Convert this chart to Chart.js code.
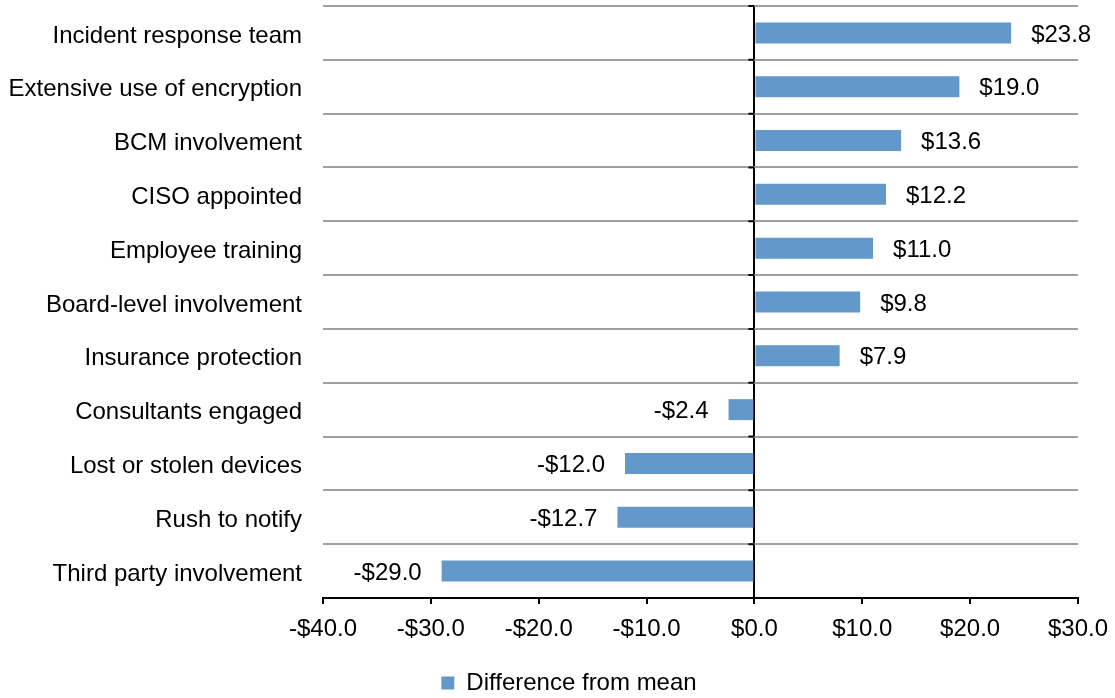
<!DOCTYPE html>
<html>
<head>
<meta charset="utf-8">
<script src="https://cdn.jsdelivr.net/npm/chart.js@4/dist/chart.umd.min.js"></script>
<style>
	html, body { margin: 0; padding: 0; background: #fff; }
	canvas { display: block; }
</style>
</head>
<body>
<canvas id="chart" width="1115" height="698"></canvas>
<script>
const categories = [
	'Incident response team',
	'Extensive use of encryption',
	'BCM involvement',
	'CISO appointed',
	'Employee training',
	'Board-level involvement',
	'Insurance protection',
	'Consultants engaged',
	'Lost or stolen devices',
	'Rush to notify',
	'Third party involvement'
];
const differences = [23.8, 19.0, 13.6, 12.2, 11.0, 9.8, 7.9, -2.4, -12.0, -12.7, -29.0];
const seriesName = 'Difference from mean';
const xMin = -40, xMax = 30, xStep = 10;

const font = '"Liberation Sans", Arial, sans-serif';
const fontSize = 24;
const barColor = '#6398cb';

function money (v) {
	return (v < 0 ? '-$' : '$') + Math.abs(v).toFixed(1);
}

// value labels beside each bar end
const valueLabels = {
	id: 'valueLabels',
	afterDatasetsDraw(chart) {
		const ctx = chart.ctx;
		const meta = chart.getDatasetMeta(0);
		ctx.save();
		ctx.font = fontSize + 'px ' + font;
		ctx.fillStyle = '#000';
		ctx.textBaseline = 'middle';
		meta.data.forEach((bar, i) => {
			const v = differences[i];
			if (v >= 0) {
				ctx.textAlign = 'left';
				ctx.fillText(money(v), bar.x + 20, bar.y + 2);
			} else {
				ctx.textAlign = 'right';
				ctx.fillText(money(v), bar.x - 20, bar.y + 2);
			}
		});
		ctx.restore();
	}
};

// small tick marks on the zero line at category boundaries
const zeroTicks = {
	id: 'zeroTicks',
	afterDraw(chart) {
		const ctx = chart.ctx;
		const x0 = chart.scales.x.getPixelForValue(0);
		const y = chart.scales.y;
		ctx.save();
		ctx.strokeStyle = '#000';
		ctx.lineWidth = 2;
		ctx.beginPath();
		for (let i = 0; i <= categories.length; i++) {
			const py = y.getPixelForValue(i - 0.5);
			ctx.moveTo(x0 - 6, py);
			ctx.lineTo(x0, py);
		}
		ctx.stroke();
		ctx.restore();
	}
};

// the legend sits a little right of the canvas centre and low, like the original
const legendShift = {
	id: 'legendShift',
	afterUpdate(chart) {
		const legend = chart.legend;
		const dx = 569 - (legend.left + legend.right) / 2;
		legend.left += dx;
		legend.right += dx;
		legend.top += 7;
		legend.bottom += 7;
		legend.adjustHitBoxes();
	}
};

new Chart(document.getElementById('chart'), {
	type: 'bar',
	data: {
		labels: categories,
		datasets: [{
			label: seriesName,
			data: differences,
			backgroundColor: barColor,
			borderWidth: 0,
			categoryPercentage: 1,
			barPercentage: 0.39
		}]
	},
	options: {
		indexAxis: 'y',
		responsive: false,
		animation: false,
		layout: {
			padding: {left: 0, right: 37, top: 6, bottom: 0}
		},
		plugins: {
			legend: {
				position: 'bottom',
				labels: {
					boxWidth: 13,
					boxHeight: 13,
					padding: 2,
					color: '#000',
					font: {family: font, size: fontSize}
				}
			},
			tooltip: {enabled: false}
		},
		scales: {
			x: {
				min: xMin,
				max: xMax,
				afterFit(scale) {
					scale.height = 64;
					scale.paddingLeft = 0;
					scale.paddingRight = 0;
				},
				ticks: {
					stepSize: xStep,
					padding: 11,
					color: '#000',
					font: {family: font, size: fontSize},
					callback: (v) => money(v)
				},
				grid: {
					lineWidth: 2,
					tickLength: 6,
					tickColor: '#000',
					color: (ctx) => ctx.tick && ctx.tick.value === 0 ? '#000' : 'rgba(0,0,0,0)'
				},
				border: {display: true, color: '#000', width: 2}
			},
			y: {
				afterFit(scale) {
					scale.width = 323;
					scale.paddingTop = 0;
					scale.paddingBottom = 0;
				},
				ticks: {
					padding: 21,
					labelOffset: 3,
					color: '#000',
					font: {family: font, size: fontSize}
				},
				grid: {
					offset: true,
					drawTicks: false,
					lineWidth: 2,
					color: (ctx) => ctx.tick ? '#a0a0a0' : 'rgba(0,0,0,0)'
				},
				border: {display: false}
			}
		}
	},
	plugins: [valueLabels, zeroTicks, legendShift]
});
</script>
</body>
</html>
